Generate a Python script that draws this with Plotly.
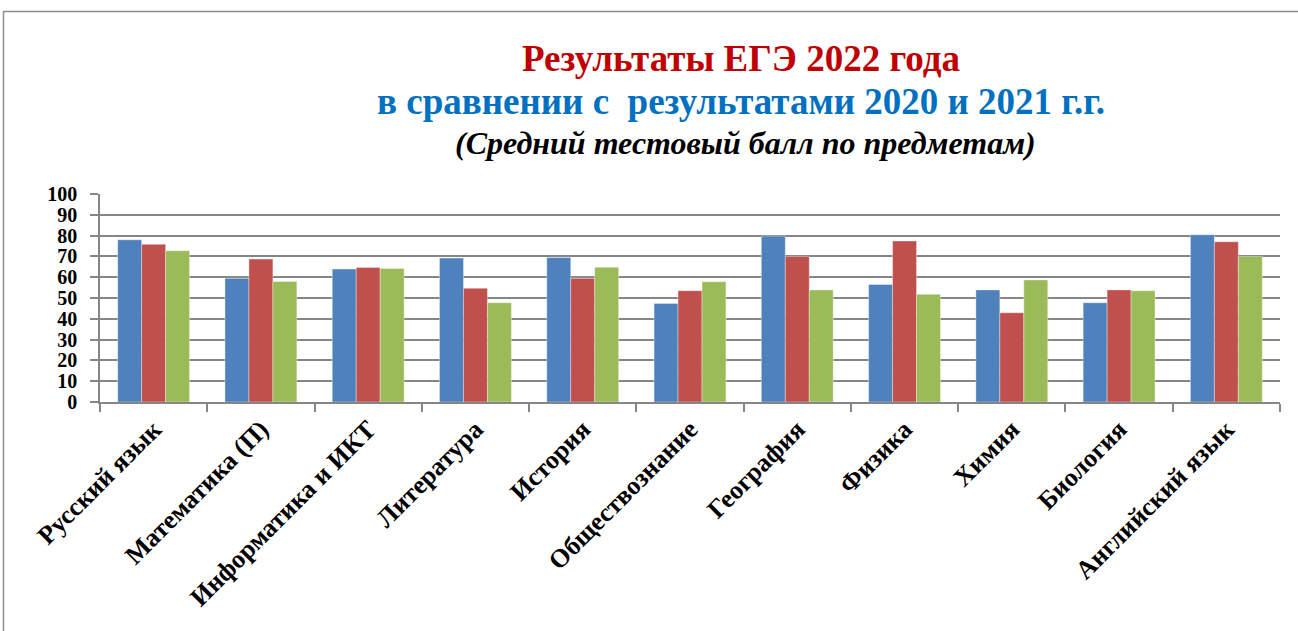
import plotly.graph_objects as go

subjects = ["Русский язык", "Математика (П)", "Информатика и ИКТ", "Литература", "История",
            "Обществознание", "География", "Физика", "Химия", "Биология", "Английский язык"]
y2020 = [78.0, 59.5, 63.9, 69.2, 69.5, 47.4, 79.8, 56.5, 53.9, 47.7, 80.4]
y2021 = [75.8, 68.7, 64.7, 54.7, 59.5, 53.5, 70.0, 77.4, 42.9, 53.9, 77.0]
y2022 = [72.7, 57.9, 64.2, 47.7, 64.8, 57.8, 53.9, 51.8, 58.7, 53.5, 70.0]
series_names = ["2020", "2021", "2022"]
colors = ["#4F81BD", "#C0504D", "#9BBB59"]
y_ticks = [0, 10, 20, 30, 40, 50, 60, 70, 80, 90, 100]

FONT = "Liberation Serif"
W, H = 1298, 631
L, R, T, B = 100, 18, 194, 229

fig = go.Figure()
for name, vals, col in zip(series_names, [y2020, y2021, y2022], colors):
    fig.add_trace(go.Bar(x=subjects, y=vals, name=name, marker_color=col,
                         marker_line=dict(color="rgba(255,255,255,0.6)", width=0.6)))

pw = W - L - R
ph = H - T - B
def px_x(p):
    return (p - L) / pw
def px_y(p):
    return (H - B - p) / ph

fig.update_layout(
    width=W, height=H,
    margin=dict(l=L, r=R, t=T, b=B, autoexpand=False),
    paper_bgcolor="white", plot_bgcolor="white",
    barmode="group", bargap=0.33, bargroupgap=0.0,
    showlegend=False,
    font=dict(family=FONT, color="black"),
    xaxis=dict(type="category", tickson="boundaries", ticks="outside", ticklen=8,
               tickcolor="#868686", tickwidth=1.5, automargin=False,
               showline=True, linecolor="#868686", linewidth=1.5,
               showgrid=False, tickangle=-45,
               tickfont=dict(family=FONT, size=26, color="black", weight="bold")),
    yaxis=dict(range=[0, 100], tickvals=y_ticks, ticks="outside", ticklen=8,
               tickcolor="#868686", tickwidth=1.5, automargin=False,
               showline=True, linecolor="#868686", linewidth=1.5,
               showgrid=True, gridcolor="#868686", gridwidth=1.5,
               zeroline=False, ticklabelstandoff=9,
               tickfont=dict(family=FONT, size=20, color="black", weight="bold")),
    shapes=[dict(type="rect", xref="paper", yref="paper",
                 x0=px_x(3.5), x1=px_x(1310), y0=px_y(640), y1=px_y(11.5),
                 line=dict(color="#8C8C8C", width=1.5), fillcolor="rgba(0,0,0,0)",
                 layer="below")],
    annotations=[
        dict(text="<b>Результаты ЕГЭ 2022 года</b>", x=px_x(741), y=px_y(58),
             xref="paper", yref="paper", showarrow=False, xanchor="center", yanchor="middle",
             font=dict(family=FONT, size=37, color="#C00000")),
        dict(text="<b>в сравнении с  результатами 2020 и 2021 г.г.</b>", x=px_x(741), y=px_y(101),
             xref="paper", yref="paper", showarrow=False, xanchor="center", yanchor="middle",
             font=dict(family=FONT, size=37, color="#0070C0")),
        dict(text="<b><i>(Средний тестовый балл по предметам)</i></b>", x=px_x(745), y=px_y(143),
             xref="paper", yref="paper", showarrow=False, xanchor="center", yanchor="middle",
             font=dict(family=FONT, size=32, color="black")),
    ],
)

fig.write_html("out.html", config={"displayModeBar": False},
               post_script="document.body.style.margin='0';document.body.style.overflow='hidden';")
